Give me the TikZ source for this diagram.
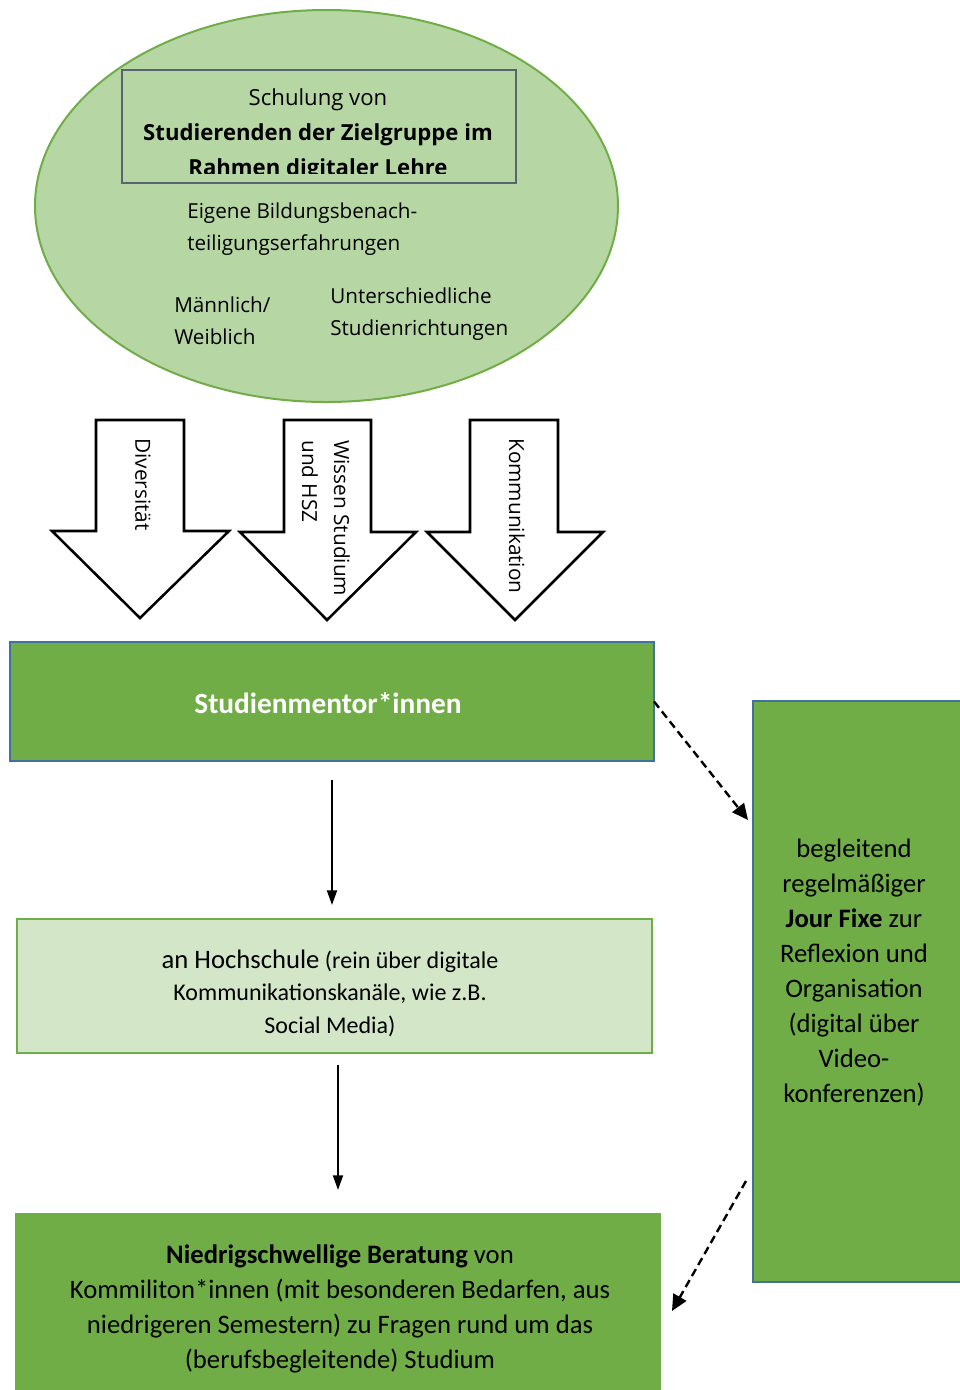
\documentclass[tikz,border=0pt]{standalone}
\usepackage{fontspec}
\setmainfont{Carlito}
\newfontfamily\osans{Open Sans}
\usetikzlibrary{shapes.geometric,arrows.meta}
\definecolor{accgreen}{HTML}{70AD47}
\definecolor{ellgreen}{HTML}{B6D7A4}
\definecolor{palegreen}{HTML}{D4E6C8}
\definecolor{blueline}{HTML}{41719C}
\definecolor{frameline}{HTML}{5A6470}
\begin{document}
\begin{tikzpicture}[x=0.75pt,y=-0.75pt,
  blockarrow/.style={draw=black,line width=1.9pt,fill=white,line join=miter},
  arrowtext/.style={font=\osans\fontsize{15.6pt}{24pt}\selectfont,rotate=-90,anchor=west,inner sep=0pt,align=left},
  elltext/.style={font=\osans\fontsize{15.5pt}{24pt}\selectfont,inner sep=0pt,align=left,anchor=north west},
  box/.style={rectangle,inner sep=0pt,outer sep=0pt,anchor=north west},
  boxtext/.style={align=center,inner sep=0pt,font=\fontsize{20pt}{26.25pt}\selectfont},
  solidarrow/.style={line width=1.4pt,-{Triangle[length=11pt,width=7.5pt]}},
  dasharrow/.style={line width=1.8pt,dash pattern=on 6pt off 3.5pt,-{Triangle[length=12pt,width=11pt]}}]
\useasboundingbox (0,0) rectangle (960,1390);
% ellipse
\node[ellipse,draw=accgreen,line width=1.5pt,fill=ellgreen,minimum width=437.25pt,minimum height=294pt,inner sep=0pt] (ell) at (326.5,206) {};
\node[box,draw=frameline,line width=0.9pt,minimum width=295.5pt,minimum height=84.75pt] (schul) at (122,70) {};
\begin{scope}
\clip (122,70) rectangle (516,173);
\node[font=\osans\fontsize{16.6pt}{26.25pt}\selectfont,inner sep=0pt,align=center,anchor=north] (schultext) at (318,88)
  {Schulung von\\\textbf{Studierenden der Zielgruppe im}\\\textbf{Rahmen digitaler Lehre}};
\end{scope}
\node[elltext] (eigene) at (187,203) {Eigene Bildungsbenach-\\teiligungserfahrungen};
\node[elltext] (mw) at (174,297) {Männlich/\\Weiblich};
\node[elltext] (studr) at (330,288) {Unterschiedliche\\Studienrichtungen};
% block arrows
\draw[blockarrow] (96,420) -- (184,420) -- (184,531) -- (229,531) -- (140,618) -- (52,531) -- (96,531) -- cycle;
\draw[blockarrow] (284,420) -- (371,420) -- (371,532) -- (416,532) -- (327,620) -- (240,532) -- (284,532) -- cycle;
\draw[blockarrow] (470,420) -- (558,420) -- (558,532) -- (603,532) -- (515,620) -- (427,532) -- (470,532) -- cycle;
\node[arrowtext] (div) at (143,438) {Diversität};
\node[arrowtext] (wiss) at (326,440) {Wissen Studium\\und HSZ};
\node[arrowtext] (komm) at (517,438) {Kommunikation};
% boxes
\node[box,fill=accgreen,draw=blueline,line width=1.8pt,minimum width=483pt,minimum height=89.25pt] (mentor) at (10,642) {};
\node[inner sep=0pt,font=\bfseries\fontsize{22pt}{26pt}\selectfont,text=white] (mentortext) at (328,703) {Studienmentor*innen};
\node[box,fill=palegreen,draw=accgreen,line width=2.2pt,minimum width=476.25pt,minimum height=100.5pt] (hs) at (17,919) {};
\node[boxtext,font=\fontsize{18pt}{24.4pt}\selectfont] (hstext) at (330,993)
  {{\fontsize{20pt}{24pt}\selectfont an Hochschule} (rein über digitale\\Kommunikationskanäle, wie z.B.\\Social Media)};
\node[box,fill=accgreen,minimum width=484.5pt,minimum height=134.25pt] (ber) at (15,1213) {};
\node[boxtext] (bertext) at (340,1309)
  {\textbf{Niedrigschwellige Beratung} von\\Kommiliton*innen (mit besonderen Bedarfen, aus\\niedrigeren Semestern) zu Fragen rund um das\\(berufsbegleitende) Studium};
\node[box,fill=accgreen,draw=blueline,line width=1.8pt,minimum width=156.75pt,minimum height=435.75pt] (jf) at (753,701) {};
\node[boxtext] (jftext) at (854,973)
  {begleitend\\regelmäßiger\\\textbf{Jour Fixe} zur\\Reflexion und\\Organisation\\(digital über\\Video-\\konferenzen)};
% connectors
\draw[solidarrow,shorten <=14.25pt,shorten >=10.5pt] (mentor.south) -- (mentor.south |- hs.north);
\draw[solidarrow,shorten <=9pt,shorten >=17.25pt] (ber.north |- hs.south) -- (ber.north);
\coordinate (d1e) at (748,820);
\coordinate (d2s) at (746,1181);
\coordinate (d2e) at (672,1311);
\draw[dasharrow] (mentor.east) -- (d1e);
\draw[dasharrow] (d2s) -- (d2e);
\end{tikzpicture}
\end{document}
